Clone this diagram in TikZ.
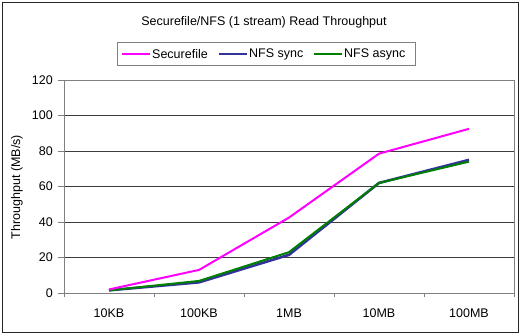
\documentclass[tikz,border=0pt]{standalone}
\usepackage{fontspec}
\setmainfont{Liberation Sans}
\definecolor{sfc}{RGB}{255,0,255}
\definecolor{nsc}{RGB}{51,51,153}
\definecolor{nac}{RGB}{0,128,0}
\definecolor{gridc}{RGB}{60,60,60}
\definecolor{axc}{RGB}{128,128,128}
\begin{document}
\begin{tikzpicture}[x=1pt,y=-1pt,
  lbl/.style={font=\fontsize{12.5}{14}\selectfont, inner sep=0pt},
  grid/.style={draw=gridc, line width=0.8pt},
  axis/.style={draw=axc, line width=0.8pt},
  sf/.style={draw=sfc, line width=2pt, line join=round},
  ns/.style={draw=nsc, line width=2.6pt, line join=round},
  na/.style={draw=nac, line width=2pt, line join=round}]
\useasboundingbox (0,0) rectangle (521,334);
\draw[black!85, line width=0.8pt] (2.5,2.5) rectangle (518,332);
% title
\node[lbl] (title) at (264,22) {Securefile/NFS (1 stream) Read Throughput};
% legend
\draw[axc, line width=0.8pt] (117,42) rectangle (415,65);
\coordinate (l1a) at (122,54); \coordinate (l1b) at (150,54);
\coordinate (l2a) at (219,54); \coordinate (l2b) at (247,54);
\coordinate (l3a) at (314,54); \coordinate (l3b) at (342,54);
\draw[sf] (l1a) -- (l1b);
\draw[ns, line width=2pt] (l2a) -- (l2b);
\draw[na] (l3a) -- (l3b);
\node[lbl, anchor=west] (t1) at (152,54) {Securefile};
\node[lbl, anchor=west] (t2) at (249,54) {NFS sync};
\node[lbl, anchor=west] (t3) at (344,54) {NFS async};
% grid
\foreach \v in {20,40,60,80,100} {
  \draw[grid] (64,{293-\v*1.775}) -- (514,{293-\v*1.775});
}
\draw[axis] (64,80) rectangle (514,293);
\foreach \v in {0,20,...,120} {
  \draw[axis] (58,{293-\v*1.775}) -- (64,{293-\v*1.775});
  \node[lbl, anchor=east] at (53,{293-\v*1.775}) {\v};
}
\foreach \i in {0,...,5} {
  \draw[axis] ({64+\i*90},293) -- ({64+\i*90},297);
}
\foreach \n [count=\i from 0] in {10KB,100KB,1MB,10MB,100MB} {
  \node[lbl] (c\i) at ({109+\i*90},313) {\n};
}
\node[lbl, rotate=90] (yl) at (17,187) {Throughput (MB/s)};
% data
\draw[ns] (109,{293-1.5*1.775}) -- (199,{293-6*1.775}) -- (289,{293-21.5*1.775}) -- (379,{293-62*1.775}) -- (469,{293-75*1.775});
\draw[na] (109,{293-1.5*1.775}) -- (199,{293-6.8*1.775}) -- (289,{293-23*1.775}) -- (379,{293-62*1.775}) -- (469,{293-74*1.775});
\draw[sf] (109,{293-2*1.775}) -- (199,{293-13*1.775}) -- (289,{293-42.5*1.775}) -- (379,{293-78.5*1.775}) -- (469,{293-92.5*1.775});
\end{tikzpicture}
\end{document}
